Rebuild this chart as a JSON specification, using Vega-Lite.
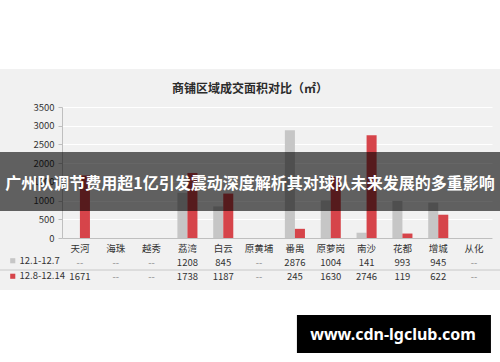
{
  "$schema": "https://vega.github.io/schema/vega-lite/v6.json",
  "width": 500,
  "height": 221,
  "autosize": "none",
  "padding": {"top": 69, "bottom": 72, "left": 0, "right": 0},
  "background": "#ffffff",
  "config": {
    "font": "Noto Sans CJK SC",
    "view": {"fill": "#f1f1f1", "stroke": null},
    "axisY": {
      "values": [0, 500, 1000, 1500, 2000, 2500, 3000, 3500],
      "format": "d",
      "labelOverlap": false,
      "tickSize": 4,
      "tickColor": "#bfbfbf",
      "domainColor": "#bfbfbf",
      "labelFontSize": 9.5,
      "labelColor": "#333333",
      "labelPadding": 4,
      "gridColor": "#ffffff",
      "grid": true,
      "title": null
    }
  },
  "title": {
    "text": "商铺区域成交面积对比（㎡）",
    "anchor": "middle",
    "frame": "group",
    "offset": -39,
    "fontSize": 12,
    "fontWeight": "bold",
    "color": "#2b2b2b",
    "baseline": "bottom"
  },
  "datasets": {
    "area": [
      {"district": "天河", "series": "12.1-12.7", "value": null},
      {"district": "天河", "series": "12.8-12.14", "value": 1671},
      {"district": "海珠", "series": "12.1-12.7", "value": null},
      {"district": "海珠", "series": "12.8-12.14", "value": null},
      {"district": "越秀", "series": "12.1-12.7", "value": null},
      {"district": "越秀", "series": "12.8-12.14", "value": null},
      {"district": "荔湾", "series": "12.1-12.7", "value": 1208},
      {"district": "荔湾", "series": "12.8-12.14", "value": 1738},
      {"district": "白云", "series": "12.1-12.7", "value": 845},
      {"district": "白云", "series": "12.8-12.14", "value": 1187},
      {"district": "原黄埔", "series": "12.1-12.7", "value": null},
      {"district": "原黄埔", "series": "12.8-12.14", "value": null},
      {"district": "番禺", "series": "12.1-12.7", "value": 2876},
      {"district": "番禺", "series": "12.8-12.14", "value": 245},
      {"district": "原萝岗", "series": "12.1-12.7", "value": 1004},
      {"district": "原萝岗", "series": "12.8-12.14", "value": 1630},
      {"district": "南沙", "series": "12.1-12.7", "value": 141},
      {"district": "南沙", "series": "12.8-12.14", "value": 2746},
      {"district": "花都", "series": "12.1-12.7", "value": 993},
      {"district": "花都", "series": "12.8-12.14", "value": 119},
      {"district": "增城", "series": "12.1-12.7", "value": 945},
      {"district": "增城", "series": "12.8-12.14", "value": 622},
      {"district": "从化", "series": "12.1-12.7", "value": null},
      {"district": "从化", "series": "12.8-12.14", "value": null}
    ],
    "overlay": [
      {"headline": "广州队调节费用超1亿引发震动深度解析其对球队未来发展的多重影响", "site": "www.cdn-lgclub.com"}
    ]
  },
  "layer": [
    {
      "layer": [
        {
          "data": {"name": "area"},
          "mark": {"type": "bar"},
          "encoding": {
            "x": {
              "field": "district",
              "type": "nominal",
              "sort": null,
              "scale": {
                "domain": ["天河", "海珠", "越秀", "荔湾", "白云", "原黄埔", "番禺", "原萝岗", "南沙", "花都", "增城", "从化"],
                "range": [62, 492],
                "paddingInner": 0.44,
                "paddingOuter": 0.22
              },
              "axis": {
                "orient": "bottom",
                "offset": -52,
                "ticks": false,
                "domainColor": "#bfbfbf",
                "labelFontSize": 9.5,
                "labelColor": "#333333",
                "labelPadding": 5,
                "labelAngle": 0,
                "title": null,
                "grid": false
              }
            },
            "xOffset": {
              "field": "series",
              "type": "nominal",
              "scale": {"domain": ["12.1-12.7", "12.8-12.14"], "paddingInner": 0, "paddingOuter": 0}
            },
            "y": {
              "field": "value",
              "type": "quantitative",
              "scale": {"domain": [0, 3500], "range": [169, 38], "nice": false},
              "axis": {
                "orient": "left",
                "offset": -62,
                "values": [0, 500, 1000, 1500, 2000, 2500, 3000, 3500],
                "tickCount": 8,
                "labelOverlap": false
              }
            },
            "color": {
              "field": "series",
              "type": "nominal",
              "scale": {"domain": ["12.1-12.7", "12.8-12.14"], "range": ["#c6c6c6", "#d6444a"]},
              "legend": {
                "orient": "none",
                "direction": "vertical",
                "legendX": 8,
                "legendY": 187,
                "title": null,
                "padding": 0,
                "symbolType": "square",
                "symbolSize": 26,
                "symbolStrokeWidth": 0,
                "labelFontSize": 9.5,
                "labelColor": "#333333",
                "labelOffset": 2,
                "rowPadding": 4.5
              }
            }
          }
        },
        {
          "data": {"name": "overlay"},
          "mark": {"type": "rect", "color": "#000000", "opacity": 0.6},
          "encoding": {
            "y": {"datum": 2298, "type": "quantitative", "scale": {"domain": [0, 3500], "range": [169, 38], "nice": false}, "axis": {"orient": "left", "offset": -62, "values": [0, 500, 1000, 1500, 2000, 2500, 3000, 3500], "tickCount": 8, "labelOverlap": false}},
            "y2": {"datum": 721}
          }
        },
        {
          "data": {"name": "overlay"},
          "mark": {"type": "text", "color": "#ffffff", "fontSize": 16, "fontWeight": "bold", "baseline": "middle", "align": "center"},
          "encoding": {
            "y": {"datum": 1450, "type": "quantitative", "axis": {"orient": "left", "offset": -62, "values": [0, 500, 1000, 1500, 2000, 2500, 3000, 3500], "tickCount": 8, "labelOverlap": false}},
            "text": {"field": "headline"}
          }
        },
        {
          "data": {"name": "overlay"},
          "mark": {"type": "rect", "color": "#000000", "clip": false},
          "encoding": {
            "x": {"datum": "番禺", "type": "nominal", "bandPosition": 0.6},
            "x2": {"datum": "从化", "bandPosition": 1.34},
            "y": {"datum": -2057, "type": "quantitative", "axis": {"orient": "left", "offset": -62, "values": [0, 500, 1000, 1500, 2000, 2500, 3000, 3500], "tickCount": 8, "labelOverlap": false}},
            "y2": {"datum": -3073}
          }
        },
        {
          "data": {"name": "overlay"},
          "mark": {"type": "text", "color": "#ffffff", "font": "Noto Sans", "fontSize": 16, "fontWeight": "bold", "baseline": "middle", "align": "center", "clip": false},
          "encoding": {
            "x": {"datum": "花都", "type": "nominal", "bandPosition": 0.03},
            "y": {"datum": -2592, "type": "quantitative", "axis": {"orient": "left", "offset": -62, "values": [0, 500, 1000, 1500, 2000, 2500, 3000, 3500], "tickCount": 8, "labelOverlap": false}},
            "text": {"field": "site"}
          }
        }
      ]
    },
    {
      "layer": [
        {
          "data": {"name": "area"},
          "mark": {"type": "text", "fontSize": 9.5, "baseline": "middle", "align": "center"},
          "encoding": {
            "x": {"field": "district", "type": "nominal", "sort": null},
            "y": {
              "field": "series",
              "type": "nominal",
              "scale": {"type": "band", "domain": ["12.1-12.7", "12.8-12.14"], "range": [187, 215], "paddingInner": 0, "paddingOuter": 0},
              "axis": null
            },
            "text": {"condition": {"test": "datum.value == null", "value": "--"}, "field": "value", "type": "quantitative"},
            "color": {"condition": {"test": "datum.value == null", "value": "#8c8c8c"}, "value": "#333333"}
          }
        },
        {
          "data": {"name": "overlay"},
          "mark": {"type": "rule", "color": "#c8c8c8"},
          "encoding": {
            "y": {"datum": "12.8-12.14", "type": "nominal", "bandPosition": 0}
          }
        }
      ]
    }
  ],
  "resolve": {"scale": {"y": "independent"}}
}
